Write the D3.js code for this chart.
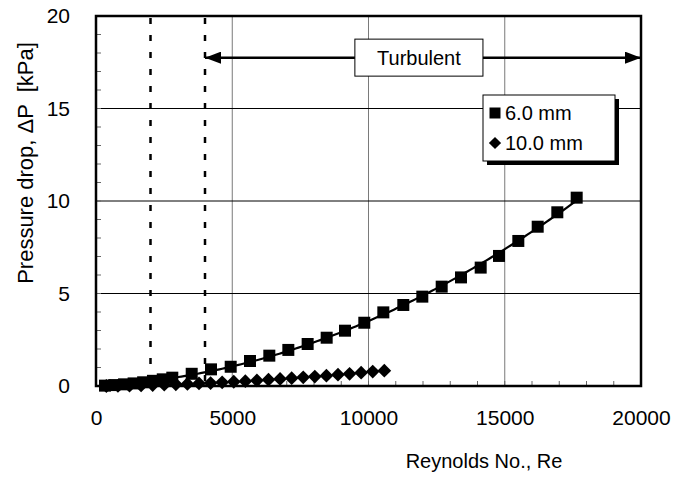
<!DOCTYPE html>
<html>
<head>
<meta charset="utf-8">
<script src="https://cdn.jsdelivr.net/npm/d3@7/dist/d3.min.js"></script>
<style>
  html, body { margin: 0; padding: 0; background: #fff; }
  svg { display: block; font-family: "Liberation Sans", Arial, sans-serif; }
</style>
</head>
<body>
<svg id="chart" width="674" height="484"></svg>
<script>
// Pressure drop vs Reynolds number for two channel sizes
const re6mm = [330, 670, 1030, 1380, 1730, 2090, 2450, 2800, 3512, 4220, 4943, 5651, 6360, 7058, 7767, 8465, 9138, 9846, 10544, 11277, 11975, 12686, 13394, 14117, 14789, 15498, 16209, 16929, 17640];
const dp6mm = [0.02, 0.05, 0.09, 0.14, 0.20, 0.28, 0.36, 0.45, 0.66, 0.90, 1.04, 1.35, 1.64, 1.95, 2.27, 2.61, 2.99, 3.42, 3.98, 4.38, 4.83, 5.37, 5.87, 6.40, 7.03, 7.84, 8.61, 9.39, 10.18];

const re10mm = [380, 805, 1230, 1655, 2080, 2505, 2930, 3355, 3780, 4205, 4630, 5055, 5480, 5905, 6330, 6755, 7180, 7605, 8030, 8455, 8880, 9305, 9730, 10155, 10580];
const dp10mm = [0.00, 0.01, 0.02, 0.03, 0.05, 0.07, 0.09, 0.11, 0.14, 0.16, 0.20, 0.23, 0.26, 0.30, 0.34, 0.38, 0.42, 0.47, 0.51, 0.56, 0.61, 0.66, 0.72, 0.78, 0.83];

const xTicks = [0, 5000, 10000, 15000, 20000];
const yTicks = [0, 5, 10, 15, 20];
const transitionRe = [2000, 4000];
const seriesNames = ["6.0 mm", "10.0 mm"];
const turbulentLabel = "Turbulent";

const svg = d3.select("#chart");
const L = 96, R = 641, T = 16, B = 386;
const FONT = 20;

const x = d3.scaleLinear().domain([0, 20000]).range([L, R]);
const y = d3.scaleLinear().domain([0, 20]).range([B, T]);

// Filled diamond marker of a given half-size
const diamondType = {
  draw(ctx, size) {
    const h = Math.sqrt(size) / 2;
    ctx.moveTo(0, -h); ctx.lineTo(h, 0); ctx.lineTo(0, h); ctx.lineTo(-h, 0); ctx.closePath();
  }
};

// Gridlines
svg.append("g").selectAll("line").data(xTicks.slice(1, -1)).join("line")
  .attr("x1", d => x(d)).attr("x2", d => x(d)).attr("y1", T).attr("y2", B)
  .attr("stroke", "#7a7a7a").attr("stroke-width", 1);
svg.append("g").selectAll("line").data(yTicks.slice(1, -1)).join("line")
  .attr("x1", L).attr("x2", R).attr("y1", d => y(d)).attr("y2", d => y(d))
  .attr("stroke", "#000").attr("stroke-width", 1);

// Inner minor ticks
const yMinor = d3.range(1, 20);
svg.append("g").selectAll("line").data(yMinor).join("line")
  .attr("x1", L).attr("x2", L + 5).attr("y1", d => y(d)).attr("y2", d => y(d))
  .attr("stroke", "#666").attr("stroke-width", 1);
const xMinor = d3.range(1000, 20000, 1000);
svg.append("g").selectAll("line").data(xMinor).join("line")
  .attr("x1", d => x(d)).attr("x2", d => x(d)).attr("y1", B).attr("y2", B - 5)
  .attr("stroke", "#666").attr("stroke-width", 1);

// Transition lines (dashed)
svg.append("g").selectAll("line").data(transitionRe).join("line")
  .attr("x1", d => x(d)).attr("x2", d => x(d)).attr("y1", T + 2).attr("y2", B)
  .attr("stroke", "#000").attr("stroke-width", 2.5).attr("stroke-dasharray", "6,11");

// Tick labels
const xAxis = d3.axisBottom(x).tickValues(xTicks).tickSize(0).tickPadding(24).tickFormat(d3.format("d"));
const gx = svg.append("g").attr("transform", `translate(0,${B})`).call(xAxis);
gx.select(".domain").remove();
gx.selectAll("text").attr("font-size", 21).attr("fill", "#000").attr("font-family", "Liberation Sans, Arial, sans-serif");

const yAxis = d3.axisLeft(y).tickValues(yTicks).tickSize(0).tickPadding(26);
const gy = svg.append("g").attr("transform", `translate(${L},0)`).call(yAxis);
gy.select(".domain").remove();
gy.selectAll("text").attr("font-size", 21).attr("fill", "#000").attr("font-family", "Liberation Sans, Arial, sans-serif");

// Quadratic least-squares trend through the 6.0 mm series
function quadFit(xs, ys) {
  let s = [0, 0, 0, 0, 0], t = [0, 0, 0];
  xs.forEach((xv, i) => {
    const u = xv / 10000;
    for (let k = 0; k <= 4; k++) s[k] += Math.pow(u, k);
    for (let k = 0; k <= 2; k++) t[k] += ys[i] * Math.pow(u, k);
  });
  const M = [[s[0], s[1], s[2], t[0]], [s[1], s[2], s[3], t[1]], [s[2], s[3], s[4], t[2]]];
  for (let i = 0; i < 3; i++) {
    for (let j = i + 1; j < 3; j++) {
      const f = M[j][i] / M[i][i];
      for (let k = i; k < 4; k++) M[j][k] -= f * M[i][k];
    }
  }
  const c = [0, 0, 0];
  for (let i = 2; i >= 0; i--) {
    let v = M[i][3];
    for (let k = i + 1; k < 3; k++) v -= M[i][k] * c[k];
    c[i] = v / M[i][i];
  }
  return r => { const u = r / 10000; return c[0] + c[1] * u + c[2] * u * u; };
}
const fit6 = quadFit(re6mm, dp6mm);
const fitPts = d3.range(re6mm[0], re6mm[re6mm.length - 1] + 1, 100).map(r => [r, Math.max(0, fit6(r))]);
svg.append("path").datum(fitPts)
  .attr("d", d3.line().x(d => x(d[0])).y(d => y(d[1])))
  .attr("fill", "none").attr("stroke", "#000").attr("stroke-width", 2.2);

// Markers
const sq = d3.symbol().type(d3.symbolSquare).size(144);
const dm = d3.symbol().type(diamondType).size(190);
svg.append("g").selectAll("path").data(re10mm.map((r, i) => [r, dp10mm[i]])).join("path")
  .attr("d", dm).attr("transform", d => `translate(${x(d[0])},${y(d[1])})`)
  .attr("fill", "#000");
svg.append("g").selectAll("path").data(re6mm.map((r, i) => [r, dp6mm[i]])).join("path")
  .attr("d", sq).attr("transform", d => `translate(${x(d[0])},${y(d[1])})`)
  .attr("fill", "#000");

// Frame
svg.append("rect").attr("x", L).attr("y", T).attr("width", R - L).attr("height", B - T)
  .attr("fill", "none").attr("stroke", "#000").attr("stroke-width", 2.5);

// Turbulent region arrow
const arrowY = 17.75;
const defs = svg.append("defs");
defs.append("marker").attr("id", "head").attr("viewBox", "0 0 16 12")
  .attr("refX", 16).attr("refY", 6).attr("markerWidth", 16).attr("markerHeight", 12)
  .attr("markerUnits", "userSpaceOnUse").attr("orient", "auto-start-reverse")
  .append("path").attr("d", "M0,0L16,6L0,12Z").attr("fill", "#000");
svg.append("line")
  .attr("x1", x(4000)).attr("x2", x(20000)).attr("y1", y(arrowY)).attr("y2", y(arrowY))
  .attr("stroke", "#000").attr("stroke-width", 2.5)
  .attr("marker-start", "url(#head)").attr("marker-end", "url(#head)");
const boxX0 = x(9500), boxX1 = x(14200);
svg.append("rect").attr("x", boxX0).attr("y", y(18.75)).attr("width", boxX1 - boxX0).attr("height", y(16.75) - y(18.75))
  .attr("fill", "#fff").attr("stroke", "#000").attr("stroke-width", 1);
svg.append("text").attr("x", (boxX0 + boxX1) / 2).attr("y", y(arrowY) + 7)
  .attr("text-anchor", "middle").attr("font-size", FONT).text(turbulentLabel);

// Legend
const lg = svg.append("g").attr("transform", "translate(483,95)");
lg.append("rect").attr("x", 4).attr("y", 4).attr("width", 132).attr("height", 66).attr("fill", "#000");
lg.append("rect").attr("x", 0).attr("y", 0).attr("width", 132).attr("height", 66)
  .attr("fill", "#fff").attr("stroke", "#000").attr("stroke-width", 1);
lg.append("path").attr("d", d3.symbol().type(d3.symbolSquare).size(121)).attr("transform", "translate(12,18)");
lg.append("text").attr("x", 22).attr("y", 25).attr("font-size", FONT).text(seriesNames[0]);
lg.append("path").attr("d", d3.symbol().type(diamondType).size(150)).attr("transform", "translate(12,48)");
lg.append("text").attr("x", 22).attr("y", 55).attr("font-size", FONT).text(seriesNames[1]);

// Axis titles
svg.append("text").attr("x", 484).attr("y", 468).attr("text-anchor", "middle")
  .attr("font-size", FONT).text("Reynolds No., Re");
svg.append("text").attr("transform", "translate(33,163) rotate(-90)").attr("text-anchor", "middle")
  .attr("font-size", 22).attr("xml:space", "preserve").text("Pressure drop, ΔP  [kPa]");
</script>
</body>
</html>
